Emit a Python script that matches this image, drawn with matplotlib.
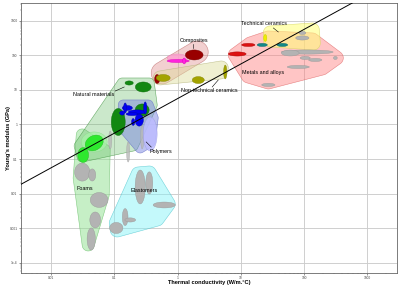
import numpy as np
import matplotlib
matplotlib.use('Agg')
import matplotlib.pyplot as plt
from matplotlib.ticker import FixedLocator, LogLocator, NullFormatter

plt.rcParams['font.family'] = ['Liberation Sans', 'DejaVu Sans']

# ---------------- data ----------------
# bubbles: (k centre W/m.C, E centre GPa, k span in decades, E span in decades, tilt deg)
foam_grey = [(0.031, 0.042, 0.24, 0.52, 0), (0.0446, 0.0347, 0.11, 0.35, 0),
             (0.0574, 0.00658, 0.28, 0.43, 0), (0.0497, 0.00174, 0.17, 0.46, 0),
             (0.043, 0.000489, 0.13, 0.64, 0)]
foam_halo = [(0.0479, 0.312, 0.41, 0.58, 0)]
foam_green = [(0.0479, 0.292, 0.30, 0.42, 30), (0.0321, 0.131, 0.17, 0.43, 0)]
natural_green = [(0.171, 15.8, 0.13, 0.12, 0), (0.286, 12.1, 0.25, 0.29, 0),
                 (0.115, 1.18, 0.22, 0.78, 0), (0.275, 2.62, 0.22, 0.35, 0)]
natural_grey = [(0.086, 0.356, 0.05, 0.52, 0), (0.165, 0.160, 0.05, 0.58, 0),
                (0.275, 0.435, 0.05, 0.69, 0)]
polymer_lav = [(0.368, 0.531, 0.22, 0.98, 0)]
polymer_blue = [(0.160, 3.0, 0.16, 0.14, 0), (0.230, 2.30, 0.28, 0.12, 0),
                (0.191, 2.0, 0.19, 0.09, 0), (0.148, 3.0, 0.05, 0.29, 0),
                (0.307, 3.0, 0.05, 0.35, 0), (0.198, 1.18, 0.05, 0.20, 0),
                (0.247, 1.34, 0.13, 0.35, 0), (0.133, 2.14, 0.08, 0.12, 0)]
elastomer_grey = [(0.256, 0.0156, 0.16, 0.98, 0), (0.356, 0.0204, 0.11, 0.64, 0),
                  (0.614, 0.00471, 0.35, 0.17, 0), (0.148, 0.00211, 0.09, 0.49, 0),
                  (0.178, 0.00174, 0.17, 0.12, 0), (0.107, 0.00102, 0.21, 0.32, 0)]
composite_pink = [(0.99, 83.6, 0.32, 0.23, 0)]
composite_red = [(1.83, 102, 0.28, 0.29, 0), (0.475, 20.6, 0.08, 0.26, 0)]
composite_mag = [(1.02, 68.4, 0.35, 0.09, 0), (1.27, 68.4, 0.05, 0.17, 0)]
nontech_olive = [(0.591, 22.1, 0.22, 0.20, 0), (2.12, 19.2, 0.19, 0.20, 0),
                 (5.66, 32.8, 0.05, 0.40, 0)]
tech_yellow = [(24.3, 316, 0.05, 0.20, 0)]
tech_grey = [(93.8, 442, 0.11, 0.09, 0), (93.8, 316, 0.21, 0.12, 0)]
metal_red = [(13.1, 199, 0.21, 0.09, 0), (8.77, 109, 0.28, 0.12, 0)]
metal_teal = [(21.8, 199, 0.16, 0.09, 0), (45.2, 199, 0.17, 0.09, 0)]
metal_grey = [(112, 124, 0.82, 0.12, 0), (60.5, 116, 0.28, 0.17, 0),
              (104, 83.6, 0.16, 0.09, 0), (150, 73.2, 0.21, 0.09, 0),
              (80.9, 45.9, 0.35, 0.09, 0), (27.2, 13.9, 0.21, 0.09, 0),
              (312, 83.6, 0.06, 0.09, 0)]

# family envelopes: anchor points (k, E)
env_foams = [(0.031, 0.498), (0.0277, 0.0284), (0.0385, 0.000329), (0.0665, 0.00917), (0.069, 0.183)]
env_natural = [(0.133, 15.8), (0.356, 15.8), (0.396, 3.66), (0.198, 0.239), (0.031, 0.115), (0.0277, 0.239)]
env_polymers = [(0.138, 3.66), (0.343, 3.66), (0.411, 1.54), (0.368, 0.312), (0.256, 0.209), (0.138, 0.792)]
env_elastomers = [(0.238, 0.0371), (0.356, 0.0396), (0.710, 0.00503), (0.475, 0.00185), (0.111, 0.000893), (0.107, 0.00142)]
env_composites = [(0.570, 30.8), (2.04, 124)]
env_nontech = [(0.531, 22.1), (4.90, 42.9), (4.72, 32.8)]
env_tech = [(29.2, 442), (135, 538), (140, 226), (29.2, 277)]
env_metals = [(8.15, 102), (14.1, 212), (27.2, 316), (135, 277), (323, 83.6), (194, 42.9), (27.2, 16.9), (13.1, 25.2)]

labels = ['Technical ceramics', 'Composites', 'Non-technical ceramics', 'Metals and alloys',
          'Natural materials', 'Polymers', 'Foams', 'Elastomers']
label_k = [23.5, 1.83, 3.16, 22.6, 0.0463, 0.551, 0.0345, 0.296]
label_E = [803, 259, 9.29, 30.8, 7.13, 0.171, 0.0137, 0.0125]
leaders = [((32.6, 615), (39.1, 471)), ((1.77, 212), (1.77, 163)), ((3.52, 12.1), (4.39, 19.3)),
           ((0.103, 9.25), (0.143, 12.1)), ((0.382, 0.223), (0.318, 0.312))]

guide_ratio = 5.6          # E/k of the guide line
x_ticks = [0.01, 0.1, 1, 10, 100, 1000]
x_ticklabels = ['0.01', '0.1', '1', '10', '100', '1000']
y_ticks = [1e-4, 1e-3, 1e-2, 0.1, 1, 10, 100, 1000]
y_ticklabels = ['1e-4', '0.001', '0.01', '0.1', '1', '10', '100', '1000']
xlim = (0.0033, 2950)
ylim = (5.1e-5, 3240)

# ---------------- figure ----------------
fig = plt.figure(figsize=(4.0, 2.87), dpi=100)
ax = fig.add_axes([0.0518, 0.0488, 0.9408, 0.9408])
ax.set_xscale('log')
ax.set_yscale('log')
ax.set_xlim(*xlim)
ax.set_ylim(*ylim)

pos = ax.get_position()
SX = pos.width * 400 / (np.log10(xlim[1]) - np.log10(xlim[0]))   # px per decade
SY = pos.height * 287 / (np.log10(ylim[1]) - np.log10(ylim[0]))


def ellipse_pts(k, E, wd, hd, ang):
    t = np.linspace(0, 2 * np.pi, 80)
    a, b = wd / 2 * SX, hd / 2 * SY
    x, y = a * np.cos(t), b * np.sin(t)
    th = np.deg2rad(ang)
    xr = x * np.cos(th) - y * np.sin(th)
    yr = x * np.sin(th) + y * np.cos(th)
    return 10 ** (np.log10(k) + xr / SX), 10 ** (np.log10(E) + yr / SY)


def hull(points):
    pts = sorted(set(points))
    def cross(o, a, b):
        return (a[0] - o[0]) * (b[1] - o[1]) - (a[1] - o[1]) * (b[0] - o[0])
    lower, upper = [], []
    for p in pts:
        while len(lower) >= 2 and cross(lower[-2], lower[-1], p) <= 0:
            lower.pop()
        lower.append(p)
    for p in reversed(pts):
        while len(upper) >= 2 and cross(upper[-2], upper[-1], p) <= 0:
            upper.pop()
        upper.append(p)
    return lower[:-1] + upper[:-1]


def envelope(anchors, pad, face, edge, alpha, z):
    t = np.linspace(0, 2 * np.pi, 48, endpoint=False)
    pts = []
    for k, E in anchors:
        px = np.log10(k) * SX + pad * np.cos(t)
        py = np.log10(E) * SY + pad * np.sin(t)
        pts += list(zip(np.round(px, 4), np.round(py, 4)))
    h = np.array(hull(pts))
    xs = 10 ** (h[:, 0] / SX)
    ys = 10 ** (h[:, 1] / SY)
    ax.fill(xs, ys, facecolor=face, alpha=alpha, edgecolor='none', zorder=z)
    ax.fill(np.r_[xs, xs[0]], np.r_[ys, ys[0]], facecolor='none', edgecolor=edge,
            lw=0.4, alpha=0.8, zorder=z)


def bubbles(lst, face, edge, alpha=1.0, z=3):
    for k, E, wd, hd, ang in lst:
        xs, ys = ellipse_pts(k, E, wd, hd, ang)
        ax.fill(xs, ys, facecolor=face, edgecolor=edge, lw=0.3, alpha=alpha, zorder=z)


ax.grid(True, which='major', color='#cccccc', lw=0.65, zorder=0)
ax.set_axisbelow(True)

envelope(env_foams, 6, '#8fe08f', '#6cc06c', 0.50, 1.0)
envelope(env_natural, 5, '#5fb85f', '#4a9a4a', 0.32, 1.1)
envelope(env_polymers, 5, '#7a86e0', '#6670c8', 0.50, 1.2)
envelope(env_elastomers, 7, '#7ef2f8', '#55c8d0', 0.45, 1.3)
envelope(env_composites, 11, '#e08a8a', '#c07070', 0.40, 1.4)
envelope(env_nontech, 7, '#dcdc9a', '#b8b880', 0.45, 1.5)
envelope(env_metals, 7, '#ff8080', '#e06a6a', 0.45, 1.6)
envelope(env_tech, 7, '#ffff77', '#d8d860', 0.55, 1.7)

bubbles(foam_halo, '#a8f0a8', '#88d888', 0.8)
bubbles(natural_grey, '#b8b8b8', '#a0a0a0', 0.8)
bubbles(foam_grey, '#b3b3b3', '#999999')
bubbles(foam_green, '#2ee82e', '#22bb22')
bubbles(natural_green, '#128812', '#0c6c0c')
bubbles(polymer_lav, '#bcbcff', '#9a9ae0', 0.85)
bubbles(polymer_blue, '#0000ee', '#0000aa')
bubbles(elastomer_grey, '#b3b3b3', '#999999')
bubbles(composite_pink, '#ff9fd0', '#e080b0', 0.8)
bubbles(composite_red, '#990000', '#770000')
bubbles(composite_mag, '#ff22dd', '#dd00bb')
bubbles(nontech_olive, '#a3a300', '#858500')
bubbles(tech_grey, '#b3b3b3', '#999999')
bubbles(tech_yellow, '#eeee00', '#c8c800')
bubbles(metal_grey, '#b3b3b3', '#999999')
bubbles(metal_red, '#dd1111', '#aa0000')
bubbles(metal_teal, '#118888', '#006666')

gk = np.array(xlim)
ax.plot(gk, guide_ratio * gk, color='black', lw=0.7, zorder=6)

for txt, k, E in zip(labels, label_k, label_E):
    ax.text(k, E, txt, ha='center', va='center', fontsize=3.9, zorder=7)
for (k1, E1), (k2, E2) in leaders:
    ax.plot([k1, k2], [E1, E2], color='black', lw=0.4, zorder=7)

ax.xaxis.set_major_locator(FixedLocator(x_ticks))
ax.set_xticklabels(x_ticklabels)
ax.yaxis.set_major_locator(FixedLocator(y_ticks))
ax.set_yticklabels(y_ticklabels)
ax.xaxis.set_minor_locator(LogLocator(base=10, subs=np.arange(2, 10), numticks=20))
ax.yaxis.set_minor_locator(LogLocator(base=10, subs=np.arange(2, 10), numticks=20))
ax.xaxis.set_minor_formatter(NullFormatter())
ax.yaxis.set_minor_formatter(NullFormatter())
ax.tick_params(which='major', length=1.5, width=0.4, labelsize=2.3, pad=0.8,
               colors='#444444', direction='out')
ax.tick_params(which='minor', length=0.9, width=0.3, colors='#666666', direction='out')
for s in ax.spines.values():
    s.set_color('#666666')
    s.set_linewidth(0.6)

ax.set_xlabel('Thermal conductivity (W/m.°C)', fontsize=4.1, fontweight='bold')
ax.set_ylabel("Young's modulus (GPa)", fontsize=4.1, fontweight='bold')
ax.xaxis.set_label_coords(0.5, -0.025)
ax.yaxis.set_label_coords(-0.026, 0.5)

fig.savefig('out.png', dpi=100)
